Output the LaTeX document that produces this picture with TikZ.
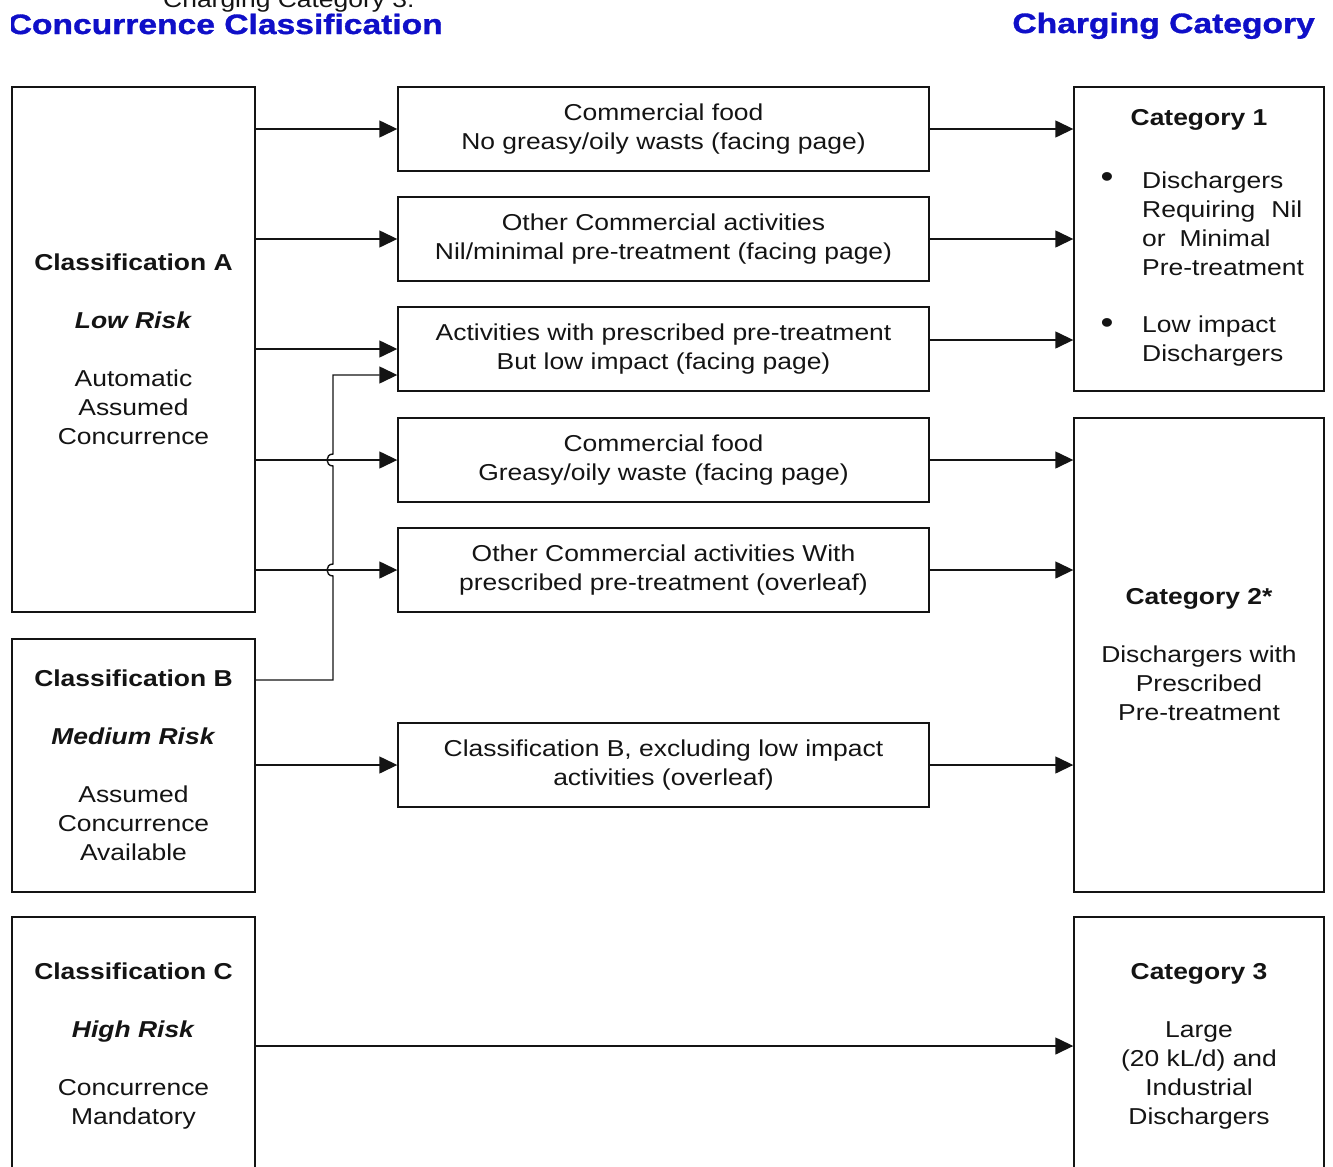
\documentclass[tikz,border=0pt]{standalone}
\usepackage{fontspec}
\setmainfont{Liberation Sans}[FakeStretch=1.15]
\newfontfamily\hdrfont{Liberation Sans}[FakeStretch=1.2,FakeBold=1.2]
\usetikzlibrary{arrows.meta}
\definecolor{hdrblue}{RGB}{15,15,200}
\definecolor{ink}{RGB}{20,20,20}
\begin{document}
\begin{tikzpicture}[x=1pt,y=-1pt,
  box/.style={draw=ink, line width=1.4pt, rectangle, inner sep=0pt, align=center, text=ink, font=\fontsize{23}{29}\selectfont},
  arr/.style={draw=ink, line width=1.4pt, -{Triangle[length=18pt,width=17pt]}},
  txt/.style={inner sep=0pt, text=ink, font=\fontsize{23}{29}\selectfont},
  hdr/.style={inner sep=0pt, text=hdrblue, font=\hdrfont\bfseries\fontsize{28}{32}\selectfont},
]
\useasboundingbox (0,0) rectangle (1333,1167);

% headers
\begin{scope}
\clip (0,0) rectangle (1333,13);
\node[txt, anchor=base west] (top) at (163,8) {Charging Category 3.};
\end{scope}
\begin{scope}
\clip (11,13) rectangle (1333,60);
\node[hdr, anchor=base east] (h1) at (443,34) {Concurrence Classification};
\end{scope}
\node[hdr, anchor=base east] (h2) at (1315,33) {Charging Category};

% left boxes
\node[box, minimum width=243pt, minimum height=525pt] (A) at (133.5,349.5)
  {\textbf{Classification A}\\[29pt]\textbf{\textit{Low Risk}}\\[29pt]Automatic\\Assumed\\Concurrence};
\node[box, minimum width=243pt, minimum height=253pt] (B) at (133.5,765.5)
  {\textbf{Classification B}\\[29pt]\textbf{\textit{Medium Risk}}\\[29pt]Assumed\\Concurrence\\Available};
\node[box, minimum width=243pt, minimum height=258pt] (C) at (133.5,1046)
  {\textbf{Classification C}\\[29pt]\textbf{\textit{High Risk}}\\[29pt]Concurrence\\Mandatory};

% middle boxes
\node[box, minimum width=531pt, minimum height=84pt] (m1) at (663.5,129)
  {Commercial food\\No greasy/oily wasts (facing page)};
\node[box, minimum width=531pt, minimum height=84pt] (m2) at (663.5,239)
  {Other Commercial activities\\Nil/minimal pre-treatment (facing page)};
\node[box, minimum width=531pt, minimum height=84pt] (m3) at (663.5,349)
  {Activities with prescribed pre-treatment\\But low impact (facing page)};
\node[box, minimum width=531pt, minimum height=84pt] (m4) at (663.5,460)
  {Commercial food\\Greasy/oily waste (facing page)};
\node[box, minimum width=531pt, minimum height=84pt] (m5) at (663.5,570)
  {Other Commercial activities With\\prescribed pre-treatment (overleaf)};
\node[box, minimum width=531pt, minimum height=84pt] (m6) at (663.5,765)
  {Classification B, excluding low impact\\activities (overleaf)};

% right boxes
\node[box, minimum width=250pt, minimum height=304pt] (c1) at (1199,239) {};
\node[txt, font=\fontsize{23}{29}\selectfont\bfseries] (c1t) at (1199,120) {Category 1};
\node[txt, font=\fontsize{32}{32}\selectfont] (bu1) at (1107,180) {\textbullet};
\node[txt, align=left, anchor=west] (c1a) at (1142,223.5)
  {Dischargers\\Requiring\hspace{0.7em}Nil\\or\hspace{0.6em}Minimal\\Pre-treatment};
\node[txt, font=\fontsize{32}{32}\selectfont] (bu2) at (1107,326) {\textbullet};
\node[txt, align=left, anchor=west] (c1b) at (1142,341) {Low impact\\Dischargers};

\node[box, minimum width=250pt, minimum height=474pt] (c2) at (1199,655)
  {\textbf{Category 2*}\\[29pt]Dischargers with\\Prescribed\\Pre-treatment};
\node[box, minimum width=250pt, minimum height=258pt] (c3) at (1199,1046)
  {\textbf{Category 3}\\[29pt]Large\\(20 kL/d) and\\Industrial\\Dischargers};

% connectors left -> middle
\draw[arr] (A.east |- m1.west) -- (m1.west);
\draw[arr] (A.east |- m2.west) -- (m2.west);
\draw[arr] (A.east |- m3.west) -- (m3.west);
\draw[arr] (A.east |- m4.west) -- (m4.west);
\draw[arr] (A.east |- m5.west) -- (m5.west);
\draw[arr] (B.east |- 0,680) -- (333,680) -- (333,576)
  .. controls (325,576) and (325,564) .. (333,564) -- (333,466)
  .. controls (325,466) and (325,454) .. (333,454) -- (333,375)
  -- ([yshift=-26pt]m3.west);
\draw[arr] (B.east |- m6.west) -- (m6.west);
\draw[arr] (C.east) -- (c3.west);

% connectors middle -> right
\draw[arr] (m1.east) -- (m1.east -| c1.west);
\draw[arr] (m2.east) -- (m2.east -| c1.west);
\draw[arr] ([yshift=9pt]m3.east) -- ([yshift=9pt]m3.east -| c1.west);
\draw[arr] (m4.east) -- (m4.east -| c2.west);
\draw[arr] (m5.east) -- (m5.east -| c2.west);
\draw[arr] (m6.east) -- (m6.east -| c2.west);
\end{tikzpicture}
\end{document}
